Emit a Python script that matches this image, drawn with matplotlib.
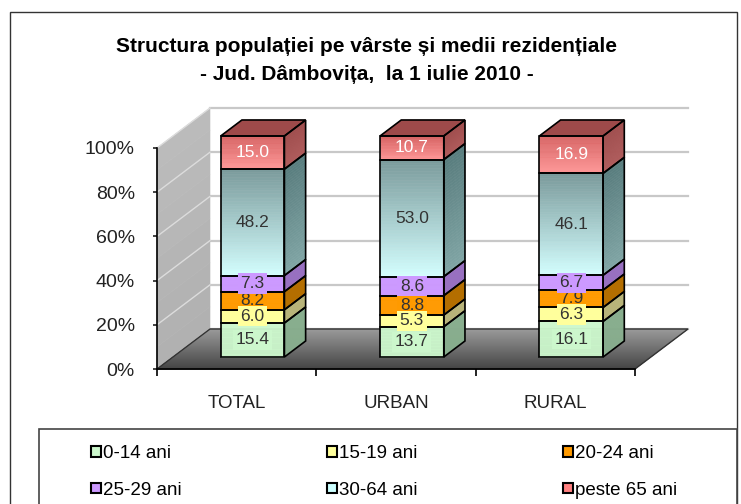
import numpy as np
import matplotlib.pyplot as plt
from matplotlib.patches import Polygon, Rectangle, Patch
from matplotlib.colors import to_rgb

plt.rcParams['font.family'] = ['Liberation Sans', 'DejaVu Sans']

# Data (% of population per age group)
categories = ['TOTAL', 'URBAN', 'RURAL']
age_groups = ['0-14 ani', '15-19 ani', '20-24 ani', '25-29 ani', '30-64 ani', 'peste 65 ani']
age_0_14 = [15.4, 13.7, 16.1]
age_15_19 = [6.0, 5.3, 6.3]
age_20_24 = [8.2, 8.8, 7.9]
age_25_29 = [7.3, 8.6, 6.7]
age_30_64 = [48.2, 53.0, 46.1]
age_65 = [15.0, 10.7, 16.9]
series = [age_0_14, age_15_19, age_20_24, age_25_29, age_30_64, age_65]

# front colours (bottom, top) and side colours
front_cols = [('#ccf7cc', '#ccf7cc'), ('#ffff9c', '#ffff9c'), ('#ff9a00', '#ff9a00'),
              ('#cc99ff', '#cc99ff'), ('#d4ffff', '#7a9a9b'), ('#ff9696', '#d86262')]
side_cols = [('#88ae8e', '#88ae8e'), ('#b8b47a', '#b8b47a'), ('#b46e00', '#b46e00'),
             ('#9870c0', '#9870c0'), ('#80a6a6', '#587c7d'), ('#b05c5c', '#a04e4e')]
text_cols = ['#333333'] * 5 + ['white']
legend_cols = ['#ccf7cc', '#ffff9c', '#ff9a00', '#cc99ff', '#ccffff', '#ff8080']

W, H = 741, 504
fig = plt.figure(figsize=(W / 100, H / 100), dpi=100)
fig.add_artist(Rectangle((10 / W, -0.05), 727 / W, 1.05 - 12 / H, transform=fig.transFigure,
                         fill=False, ec='#333333', lw=1))

ax = fig.add_axes([157 / W, 1 - 369 / H, 478 / W, 221 / H])
ax.set_xlim(0, 3)
ax.set_ylim(0, 100)
ax.set_facecolor('none')

# depth of the 3d box in data units
DX = 53 * 3 / 478
DY = 40 * 100 / 221


def shade(p0, u, v, c0, c1, z, n=40):
    p0, u, v = np.asarray(p0, float), np.asarray(u, float), np.asarray(v, float)
    c0, c1 = np.array(to_rgb(c0)), np.array(to_rgb(c1))
    for k in range(n):
        a, b = k / n, (k + 1) / n
        col = c0 + (c1 - c0) * (a + b) / 2
        pts = [p0 + a * v, p0 + u + a * v, p0 + u + b * v, p0 + b * v]
        ax.add_patch(Polygon(pts, closed=True, fc=col, ec=col, lw=0.4, zorder=z, clip_on=False))


def outline(p0, u, v, z, ec='black', lw=1.2):
    p0, u, v = np.asarray(p0, float), np.asarray(u, float), np.asarray(v, float)
    pts = [p0, p0 + u, p0 + u + v, p0 + v]
    ax.add_patch(Polygon(pts, closed=True, fill=False, ec=ec, lw=lw, zorder=z, clip_on=False))


# back wall with gridlines
ax.add_patch(Polygon([(DX, DY), (3 + DX, DY), (3 + DX, 100 + DY), (DX, 100 + DY)],
                     fc='white', ec='none', zorder=0.5, clip_on=False))
for g in range(0, 101, 20):
    ax.plot([DX, 3 + DX], [g + DY, g + DY], color='#c8c8c8', lw=1.6, zorder=0.55, clip_on=False)

# side wall
shade((0, 0), (DX, DY), (0, 100), '#b0b0b0', '#bcbcbc', 0.6, n=10)
for g in range(0, 101, 20):
    ax.plot([0, DX], [g, g + DY], color='#dcdcdc', lw=1.0, zorder=0.65, clip_on=False)

# floor
shade((0, 0), (3, 0), (DX, DY), '#444444', '#9a9a9a', 0.7)
outline((0, 0), (3, 0), (DX, DY), 0.75, ec='#333333', lw=1.0)

# stacked bars
bw = 0.4
t0, t1 = 0.3, 0.7
bd = t1 - t0
for i in range(len(categories)):
    tot = sum(s[i] for s in series)
    xl = i + (1 - bw) / 2 + t0 * DX
    base = t0 * DY
    cum = 0
    for j, s in enumerate(series):
        h = s[i] / tot * 100
        y0 = base + cum
        shade((xl, y0), (bw, 0), (0, h), front_cols[j][0], front_cols[j][1], 2)
        outline((xl, y0), (bw, 0), (0, h), 2.1)
        shade((xl + bw, y0), (bd * DX, bd * DY), (0, h), side_cols[j][0], side_cols[j][1], 2)
        outline((xl + bw, y0), (bd * DX, bd * DY), (0, h), 2.1)
        box = None if j >= 4 else dict(boxstyle='square,pad=0.15', fc=front_cols[j][0], ec='none')
        ax.text(xl + bw / 2, y0 + h / 2, f'{s[i]:.1f}', ha='center', va='center', fontsize=12.5,
                color=text_cols[j], bbox=box, zorder=5 if j != 2 else 4.5)
        cum += h
    top = base + cum
    shade((xl, top), (bw, 0), (bd * DX, bd * DY), '#9e4a4a', '#9e4a4a', 2, n=2)
    outline((xl, top), (bw, 0), (bd * DX, bd * DY), 2.1)

# axes, ticks
ax.set_yticks(range(0, 101, 20))
ax.set_yticklabels([f'{v}%' for v in range(0, 101, 20)])
ax.set_xticks([0.5, 1.5, 2.5])
ax.set_xticklabels(categories)
ax.set_xticks([0, 1, 2, 3], minor=True)
ax.tick_params(axis='x', which='major', length=0, pad=19, labelsize=13.5, colors='#222222')
ax.tick_params(axis='x', which='minor', length=5, width=1.2, direction='out')
ax.tick_params(axis='y', length=3, width=1.2, pad=13, labelsize=14, colors='#222222')
for side in ['top', 'right']:
    ax.spines[side].set_visible(False)
for side in ['left', 'bottom']:
    ax.spines[side].set_linewidth(1.2)
    ax.spines[side].set_color('black')

# title
fig.text(367 / W, 1 - 47 / H, 'Structura populației pe vârste și medii rezidențiale',
         ha='center', va='center', fontsize=15, fontweight='bold')
fig.text(367 / W, 1 - 74 / H, '- Jud. Dâmbovița,  la 1 iulie 2010 -',
         ha='center', va='center', fontsize=15, fontweight='bold')

# legend
fig.add_artist(Rectangle((39 / W, -0.05), 698 / W, 0.05 + 1 - 429 / H, transform=fig.transFigure,
                         fc='white', ec='#444444', lw=1.2))
handles = [Patch(fc=c, ec='black', lw=1.5) for c in legend_cols]
order = [0, 3, 1, 4, 2, 5]
leg = fig.legend([handles[k] for k in order], [age_groups[k] for k in order], ncol=3,
                 loc='upper left', bbox_to_anchor=(78 / W, 1 - 437 / H, 612 / W, 0.01),
                 mode='expand', frameon=False, fontsize=13.5, handlelength=0.5, handleheight=0.5,
                 handletextpad=0.12, labelspacing=1.05, borderpad=0.2)
leg.set_zorder(5)

fig.savefig('out.png', dpi=100)
